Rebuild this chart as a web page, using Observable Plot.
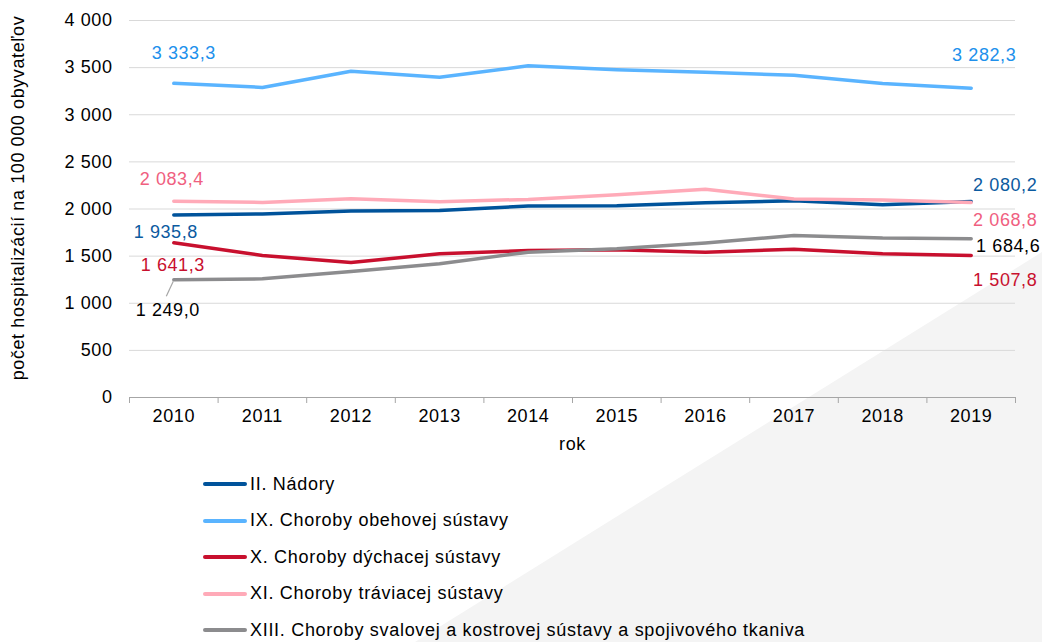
<!DOCTYPE html>
<html><head><meta charset="utf-8">
<script src="https://cdn.jsdelivr.net/npm/d3@7"></script>
<script src="https://cdn.jsdelivr.net/npm/@observablehq/plot@0.6"></script>
<style>
body{margin:0;background:#fff;font-family:"Liberation Sans",Arial,sans-serif;}
#wrap{position:relative;width:1042px;height:642px;overflow:hidden;}
#bg{position:absolute;left:0;top:0;width:1042px;height:642px;background:#f4f4f4;clip-path:polygon(415px 642px,1042px 252px,1042px 642px);}
#chart{position:absolute;left:0;top:0;}
#legend{position:absolute;left:203px;top:466px;}
.row{height:36.5px;display:flex;align-items:center;font-size:18px;letter-spacing:0.7px;color:#000;white-space:nowrap;}
.sw{width:44px;height:4px;margin-right:3px;border-radius:2px;}
</style></head>
<body><div id="wrap"><div id="bg"></div><div id="chart"></div><div id="legend"></div></div>
<script>
const years = [2010, 2011, 2012, 2013, 2014, 2015, 2016, 2017, 2018, 2019];
const series = [
  "II. Nádory",
  "IX. Choroby obehovej sústavy",
  "X. Choroby dýchacej sústavy",
  "XI. Choroby tráviacej sústavy",
  "XIII. Choroby svalovej a kostrovej sústavy a spojivového tkaniva"
];
const nadory   = [1935.8, 1947, 1979, 1983, 2032, 2035, 2067, 2088, 2045, 2080.2];
const obehova  = [3333.3, 3290, 3462, 3399, 3519, 3477, 3450, 3420, 3332, 3282.3];
const dychacia = [1641.3, 1507, 1433, 1525, 1560, 1567, 1542, 1574, 1524, 1507.8];
const traviaca = [2083.4, 2070, 2110, 2077, 2102, 2150, 2210, 2106, 2095, 2068.8];
const svalova  = [1249.0, 1259, 1338, 1418, 1542, 1577, 1638, 1719, 1691, 1684.6];
const values = [nadory, obehova, dychacia, traviaca, svalova];
const yTicks = [0, 500, 1000, 1500, 2000, 2500, 3000, 3500, 4000];
const yTitle = "počet hospitalizácií na 100 000 obyvateľov";
const xTitle = "rok";

const lineColors = ["#00539b", "#5ab4ff", "#c8102e", "#ffaab8", "#8c8c8e"];
const labelColors = ["#0b5aa0", "#2090ec", "#c8102e", "#f0607f", "#000000"];

const fmt = v => d3.format(",.1f")(v).replace(/,/g, " ").replace(".", ",");
const yfmt = v => d3.format(",")(v).replace(/,/g, " ");

const rows = [];
series.forEach((s, i) => years.forEach((yr, j) => rows.push({series: s, year: yr, value: values[i][j]})));
const boundaries = years.map(y => y - 0.5).concat([years[years.length - 1] + 0.5]);

const FS = 18;
const lab = (si, yi, dx, dy) => Plot.text([{year: years[yi], value: values[si][yi]}], {
  x: "year", y: "value", text: d => fmt(d.value), dx, dy, fill: labelColors[si], fontSize: FS
});
const last = years.length - 1;

const leader = (index, scales) => {
  const x = scales.x(years[0]), y = scales.y(svalova[0]);
  const l = document.createElementNS("http://www.w3.org/2000/svg", "line");
  l.setAttribute("x1", x); l.setAttribute("y1", y + 2);
  l.setAttribute("x2", x - 7); l.setAttribute("y2", y + 17);
  l.setAttribute("stroke", "#a6a6a6"); l.setAttribute("stroke-width", 1.2);
  return l;
};

const chart = Plot.plot({
  width: 1042, height: 460,
  marginLeft: 129, marginRight: 27, marginTop: 20, marginBottom: 63,
  style: {background: "transparent", fontFamily: "Liberation Sans, Arial, sans-serif", fontSize: "18px", letterSpacing: "0.6px", color: "#000"},
  x: {type: "linear", domain: [years[0] - 0.5, years[last] + 0.5]},
  y: {domain: [0, 4000]},
  color: {domain: series, range: lineColors},
  marks: [
    Plot.gridY(yTicks, {stroke: "#d9d9d9", strokeOpacity: 1}),
    Plot.axisY(yTicks, {tickSize: 0, tickPadding: 17, tickFormat: yfmt, label: null, fontSize: FS}),
    Plot.ruleY([0], {stroke: "#a6a6a6"}),
    Plot.axisX(boundaries, {tickSize: 6, tickFormat: () => "", label: null, stroke: "#a6a6a6"}),
    Plot.axisX(years, {tickSize: 0, tickPadding: 12, tickFormat: d => String(d), label: null, fontSize: FS}),
    Plot.text([yTitle], {frameAnchor: "left", textAnchor: "middle", rotate: -90, dx: -111, dy: -11, fontSize: FS, fill: "#000"}),
    Plot.text([xTitle], {frameAnchor: "bottom", dy: 52, fontSize: FS, fill: "#000"}),
    Plot.line(rows, {x: "year", y: "value", z: "series", stroke: "series", strokeWidth: 3.5}),
    leader,
    lab(1, 0, 10, -30), lab(1, last, 13, -33),
    lab(3, 0, -2, -22), lab(3, last, 34, 18),
    lab(0, 0, -8, 17), lab(0, last, 34, -16),
    lab(2, 0, -1, 22), lab(2, last, 34, 25),
    lab(4, 0, -6, 30), lab(4, last, 37, 8)
  ]
});
document.getElementById("chart").appendChild(chart);

const legend = document.getElementById("legend");
series.forEach((s, i) => {
  const r = document.createElement("div"); r.className = "row";
  const sw = document.createElement("span"); sw.className = "sw"; sw.style.background = lineColors[i];
  const t = document.createElement("span"); t.textContent = s;
  r.appendChild(sw); r.appendChild(t); legend.appendChild(r);
});
</script></body></html>
